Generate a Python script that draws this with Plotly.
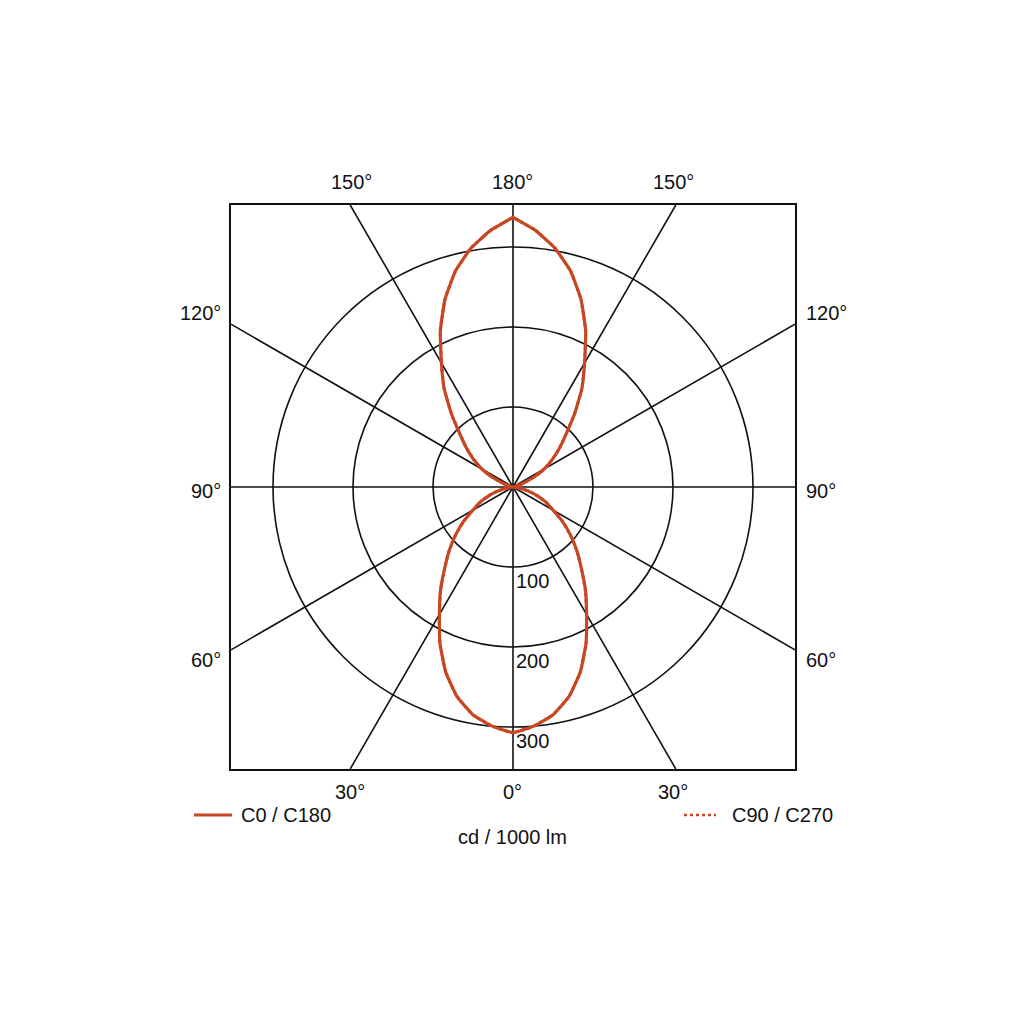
import math
import plotly.graph_objects as go

# ---------------- data ----------------
gamma_deg = list(range(0, 181, 5))  # 0 = straight down, 180 = straight up
# luminous intensity, cd / 1000 lm (C0/C180 plane)
c0_c180 = [307, 300, 289, 271, 246, 216, 184, 158, 133, 113, 94, 76, 58, 46, 33, 20, 9, 3, 0,
           1, 2, 5, 12, 28, 45, 60, 76, 94, 120, 150, 179, 215, 249, 279, 303, 322, 337]
# C90/C270 plane (coincides with C0/C180)
c90_c270 = [307, 300, 289, 271, 246, 216, 184, 158, 133, 113, 94, 76, 58, 46, 33, 20, 9, 3, 0,
            1, 2, 5, 12, 28, 45, 60, 76, 94, 120, 150, 179, 215, 249, 279, 303, 322, 337]
radial_ticks = [100, 200, 300]
spoke_angles = [0, 30, 60, 90, 120, 150, 180, 210, 240, 270, 300, 330]
angle_labels_top = ["150°", "180°", "150°"]
angle_labels_bottom = ["30°", "0°", "30°"]
angle_labels_side = ["120°", "90°", "60°"]
legend_labels = ["C0 / C180", "C90 / C270"]
unit_label = "cd / 1000 lm"

RMAX = 352.5
RED = "rgb(200,70,34)"
INK = "#111111"
FONT = "Liberation Sans, Arial, sans-serif"
FS = 20

OFF = 8  # page body margin
# plot-area geometry (figure pixels)
L, T = 231 - OFF, 205 - OFF
PW = PH = 564
R = 1024 - L - PW
B = 1024 - T - PH


def paper_x(px):
    return (px - OFF - L) / PW


def paper_y(py):
    return (T + PH - (py - OFF)) / PH


fig = go.Figure()

# spokes every 30 degrees, running to the frame
for a in spoke_angles:
    s, c = math.sin(math.radians(a)), -math.cos(math.radians(a))
    t = RMAX / max(abs(s), abs(c))
    fig.add_trace(go.Scatter(x=[0, t * s], y=[0, t * c], mode="lines",
                             line=dict(color=INK, width=1.6), hoverinfo="skip",
                             showlegend=False))

shapes = []
for rt in radial_ticks:
    shapes.append(dict(type="circle", xref="x", yref="y", x0=-rt, x1=rt, y0=-rt, y1=rt,
                       line=dict(color=INK, width=1.6), layer="below"))


def full_curve(vals):
    th = gamma_deg + [360 - g for g in reversed(gamma_deg)]
    rr = vals + list(reversed(vals))
    return th, rr


th, rr = full_curve(c90_c270)
fig.add_trace(go.Scatterpolar(theta=th, r=rr, mode="lines",
                              line=dict(color=RED, width=3, dash="dot", shape="spline",
                                        smoothing=0.35),
                              name=legend_labels[1], showlegend=False))
th, rr = full_curve(c0_c180)
fig.add_trace(go.Scatterpolar(theta=th, r=rr, mode="lines",
                              line=dict(color=RED, width=3.2, shape="spline", smoothing=0.35),
                              name=legend_labels[0], showlegend=False))

ann = []


def label(text, px, py, xanchor="center", yanchor="middle"):
    ann.append(dict(text=text, x=paper_x(px), y=paper_y(py), xref="paper", yref="paper",
                    xanchor=xanchor, yanchor=yanchor, showarrow=False,
                    font=dict(family=FONT, size=FS, color=INK)))


for txt, px in zip(angle_labels_top, [351, 512, 673]):
    label(txt, px, 182)
for txt, px in zip(angle_labels_bottom, [350, 512, 673]):
    label(txt, px, 792)
for txt, py in zip(angle_labels_side, [313, 491, 660]):
    label(txt, 223, py, xanchor="right")
    label(txt, 804, py, xanchor="left")

for rt in radial_ticks:
    ann.append(dict(text=str(rt), x=0, y=-rt, xref="x", yref="y", xanchor="left",
                    yanchor="top", xshift=1, yshift=-1, showarrow=False,
                    font=dict(family=FONT, size=FS, color=INK)))

# legend
shapes.append(dict(type="line", xref="paper", yref="paper", x0=paper_x(194), x1=paper_x(232),
                   y0=paper_y(815), y1=paper_y(815), line=dict(color=RED, width=3)))
shapes.append(dict(type="line", xref="paper", yref="paper", x0=paper_x(684), x1=paper_x(716),
                   y0=paper_y(815), y1=paper_y(815), line=dict(color=RED, width=2.5, dash="dot")))
label(legend_labels[0], 239, 815, xanchor="left")
label(legend_labels[1], 730, 815, xanchor="left")
label(unit_label, 512, 837)

fig.update_layout(
    width=1024, height=1024,
    margin=dict(l=L, r=R, t=T, b=B, pad=0),
    paper_bgcolor="white", plot_bgcolor="white",
    showlegend=False,
    xaxis=dict(range=[-RMAX, RMAX], showgrid=False, zeroline=False, showticklabels=False,
               ticks="", showline=True, mirror=True, linecolor=INK, linewidth=2.2,
               domain=[0, 1]),
    yaxis=dict(range=[-RMAX, RMAX], showgrid=False, zeroline=False, showticklabels=False,
               ticks="", showline=True, mirror=True, linecolor=INK, linewidth=2.2,
               domain=[0, 1]),
    polar=dict(domain=dict(x=[0, 1], y=[0, 1]), bgcolor="rgba(0,0,0,0)",
               radialaxis=dict(range=[0, RMAX], visible=False),
               angularaxis=dict(visible=False, rotation=-90, direction="counterclockwise")),
    shapes=shapes,
    annotations=ann,
)

fig.write_html("out.html")
